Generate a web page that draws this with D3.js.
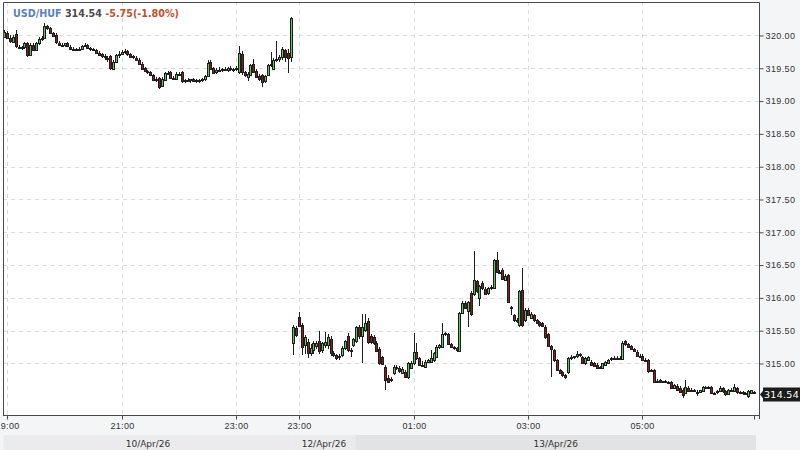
<!DOCTYPE html>
<html>
<head>
<meta charset="utf-8">
<script src="https://cdn.jsdelivr.net/npm/d3@7"></script>
<style>
  body { margin: 0; background: #fff; }
  svg { display: block; font-family: "DejaVu Sans", sans-serif; }
</style>
</head>
<body>
<svg id="chart" width="800" height="450"></svg>
<script>
// Instrument header
const symbol = 'USD/HUF';
const lastPrice = 314.54;
const change = -5.75;
const changePct = -1.80;

// Two trading sessions of 3-minute candles (Friday evening, Sunday night / Monday)
const sessionStarts = ['2026-04-10T18:57:00', '2026-04-12T22:54:00'];
const sessionLengths = [101, 162];
const candleMinutes = 3;

// Right axis prices
const priceTicks = [315.0, 315.5, 316.0, 316.5, 317.0, 317.5, 318.0, 318.5, 319.0, 319.5, 320.0];
const priceRange = [314.215, 320.51];

// OHLC values (session 1 first, then session 2)
const open = [
  319.98, 320.04, 319.96, 319.91, 320.02, 319.83, 319.81, 319.82, 319.88, 319.70,
  319.86, 319.78, 319.88, 319.94, 319.96, 320.14, 320.11, 320.04, 320.00, 319.89,
  319.86, 319.85, 319.88, 319.83, 319.80, 319.79, 319.78, 319.80, 319.84, 319.86,
  319.81, 319.79, 319.78, 319.74, 319.71, 319.68, 319.66, 319.68, 319.50, 319.60,
  319.70, 319.72, 319.74, 319.76, 319.72, 319.68, 319.66, 319.63, 319.57, 319.50,
  319.46, 319.44, 319.40, 319.33, 319.35, 319.24, 319.33, 319.43, 319.44, 319.35,
  319.34, 319.42, 319.44, 319.30, 319.32, 319.31, 319.33, 319.30, 319.32, 319.31,
  319.33, 319.38, 319.60, 319.50, 319.45, 319.48, 319.47, 319.49, 319.47, 319.50,
  319.48, 319.49, 319.44, 319.72, 319.44, 319.37, 319.40, 319.57, 319.46, 319.38,
  319.40, 319.30, 319.40, 319.55, 319.50, 319.63, 319.64, 319.67, 319.78, 319.73,
  319.66,
  315.31, 315.54, 315.71, 315.58, 315.28, 315.33, 315.16, 315.20, 315.28, 315.34,
  315.20, 315.28, 315.28, 315.38, 315.16, 315.13, 315.10, 315.13, 315.23, 315.42,
  315.20, 315.28, 315.34, 315.55, 315.42, 315.52, 315.65, 315.42, 315.40, 315.32,
  315.22, 315.10, 314.95, 314.78, 314.76, 314.86, 314.94, 314.93, 314.86, 314.87,
  314.78, 314.93, 315.00, 315.17, 315.08, 314.98, 314.95, 315.02, 315.02, 315.05,
  315.10, 315.25, 315.25, 315.44, 315.45, 315.30, 315.25, 315.23, 315.19, 315.77,
  315.92, 315.80, 316.07, 316.05, 316.25, 316.00, 316.22, 316.14, 316.07, 316.15,
  316.15, 316.58, 316.40, 316.43, 316.28, 316.35, 315.86, 315.74, 315.66, 315.58,
  316.12, 315.66, 315.82, 315.70, 315.74, 315.66, 315.63, 315.62, 315.56, 315.45,
  315.26, 315.20, 315.05, 314.90, 314.87, 314.82, 314.86, 315.09, 315.10, 315.11,
  315.14, 315.10, 315.00, 315.06, 315.03, 315.01, 314.98, 314.94, 314.93, 314.99,
  315.02, 315.06, 315.08, 315.09, 315.08, 315.08, 315.34, 315.30, 315.26, 315.22,
  315.18, 315.12, 315.12, 315.06, 315.05, 314.90, 314.90, 314.74, 314.75, 314.72,
  314.73, 314.72, 314.72, 314.63, 314.66, 314.63, 314.60, 314.55, 314.63, 314.59,
  314.59, 314.57, 314.56, 314.58, 314.64, 314.64, 314.64, 314.55, 314.56, 314.58,
  314.62, 314.58, 314.54, 314.59, 314.58, 314.62, 314.56, 314.56, 314.54, 314.51,
  314.55, 314.56
];

const high = [
  320.09, 320.07, 320.00, 320.00, 320.08, 319.86, 319.84, 319.90, 319.90, 319.88,
  319.88, 319.90, 319.97, 319.99, 320.19, 320.16, 320.13, 320.06, 320.03, 319.91,
  319.88, 319.89, 319.90, 319.86, 319.83, 319.81, 319.82, 319.85, 319.89, 319.87,
  319.83, 319.81, 319.80, 319.76, 319.73, 319.72, 319.69, 319.70, 319.62, 319.72,
  319.76, 319.78, 319.80, 319.78, 319.74, 319.70, 319.68, 319.65, 319.59, 319.52,
  319.48, 319.46, 319.42, 319.36, 319.37, 319.36, 319.45, 319.46, 319.46, 319.38,
  319.44, 319.45, 319.46, 319.33, 319.35, 319.34, 319.35, 319.33, 319.34, 319.35,
  319.40, 319.62, 319.63, 319.52, 319.51, 319.52, 319.51, 319.52, 319.52, 319.53,
  319.51, 319.53, 319.84, 319.76, 319.46, 319.44, 319.57, 319.64, 319.49, 319.42,
  319.42, 319.40, 319.56, 319.75, 319.66, 319.91, 319.70, 319.82, 319.80, 319.80,
  320.28,
  315.58, 315.57, 315.78, 315.62, 315.43, 315.38, 315.30, 315.34, 315.34, 315.50,
  315.33, 315.48, 315.45, 315.42, 315.19, 315.15, 315.14, 315.26, 315.36, 315.46,
  315.23, 315.39, 315.57, 315.58, 315.76, 315.76, 315.70, 315.45, 315.43, 315.35,
  315.25, 315.12, 314.98, 314.82, 314.80, 314.97, 314.97, 314.96, 314.95, 314.90,
  315.02, 315.04, 315.47, 315.32, 315.10, 315.04, 315.05, 315.07, 315.21, 315.18,
  315.28, 315.30, 315.62, 315.48, 315.47, 315.32, 315.27, 315.25, 315.79, 315.95,
  315.95, 315.96, 316.10, 316.72, 316.28, 316.20, 316.25, 316.16, 316.17, 316.20,
  316.60, 316.70, 316.43, 316.45, 316.36, 316.37, 315.88, 315.76, 315.69, 316.12,
  316.46, 315.84, 315.84, 315.78, 315.76, 315.68, 315.65, 315.64, 315.58, 315.47,
  315.28, 315.22, 315.07, 314.92, 314.89, 314.84, 315.10, 315.13, 315.12, 315.19,
  315.16, 315.12, 315.10, 315.12, 315.05, 315.03, 315.00, 314.96, 315.01, 315.04,
  315.07, 315.10, 315.11, 315.12, 315.11, 315.34, 315.36, 315.32, 315.28, 315.24,
  315.20, 315.15, 315.14, 315.08, 315.07, 314.92, 314.92, 314.76, 314.77, 314.74,
  314.75, 314.74, 314.74, 314.69, 314.68, 314.65, 314.62, 314.75, 314.65, 314.62,
  314.61, 314.59, 314.60, 314.66, 314.66, 314.66, 314.66, 314.57, 314.60, 314.65,
  314.64, 314.60, 314.61, 314.62, 314.69, 314.64, 314.58, 314.58, 314.57, 314.59,
  314.60, 314.58
];

const low = [
  319.96, 319.94, 319.89, 319.88, 319.81, 319.79, 319.78, 319.80, 319.67, 319.68,
  319.76, 319.76, 319.86, 319.92, 319.95, 320.08, 320.02, 319.99, 319.87, 319.84,
  319.83, 319.83, 319.82, 319.79, 319.77, 319.76, 319.76, 319.79, 319.82, 319.80,
  319.77, 319.76, 319.72, 319.69, 319.66, 319.63, 319.60, 319.48, 319.48, 319.58,
  319.66, 319.70, 319.71, 319.69, 319.66, 319.64, 319.61, 319.55, 319.48, 319.44,
  319.41, 319.38, 319.31, 319.29, 319.19, 319.22, 319.31, 319.40, 319.33, 319.32,
  319.32, 319.38, 319.28, 319.27, 319.29, 319.28, 319.29, 319.27, 319.28, 319.29,
  319.31, 319.36, 319.48, 319.41, 319.42, 319.45, 319.44, 319.46, 319.45, 319.46,
  319.45, 319.46, 319.42, 319.40, 319.36, 319.30, 319.38, 319.43, 319.35, 319.30,
  319.22, 319.28, 319.38, 319.52, 319.48, 319.60, 319.60, 319.63, 319.60, 319.43,
  319.60,
  315.13, 315.40, 315.56, 315.13, 315.15, 315.08, 315.12, 315.15, 315.22, 315.15,
  315.16, 315.24, 315.22, 315.12, 315.10, 315.05, 315.06, 315.10, 315.20, 315.18,
  315.10, 315.25, 315.32, 315.38, 315.00, 315.48, 315.30, 315.30, 315.28, 315.17,
  314.97, 314.97, 314.59, 314.70, 314.72, 314.82, 314.90, 314.86, 314.84, 314.78,
  314.76, 314.91, 314.98, 315.06, 314.96, 314.94, 314.93, 315.01, 315.00, 315.03,
  315.08, 315.22, 315.23, 315.42, 315.28, 315.24, 315.21, 315.18, 315.17, 315.75,
  315.83, 315.56, 315.73, 316.03, 316.08, 315.87, 316.12, 316.05, 316.05, 316.12,
  316.13, 316.38, 316.37, 316.28, 316.26, 315.92, 315.74, 315.64, 315.62, 315.56,
  315.56, 315.64, 315.72, 315.68, 315.64, 315.60, 315.56, 315.55, 315.38, 315.25,
  314.80, 315.02, 314.88, 314.84, 314.80, 314.77, 314.84, 315.06, 315.07, 315.09,
  315.10, 314.99, 314.98, 315.04, 314.97, 314.95, 314.91, 314.91, 314.91, 314.97,
  315.00, 315.04, 315.05, 315.06, 315.06, 315.06, 315.27, 315.24, 315.20, 315.17,
  315.10, 315.08, 315.04, 315.02, 314.86, 314.87, 314.70, 314.71, 314.70, 314.70,
  314.70, 314.70, 314.61, 314.61, 314.58, 314.55, 314.48, 314.53, 314.56, 314.57,
  314.57, 314.50, 314.55, 314.56, 314.62, 314.61, 314.53, 314.53, 314.54, 314.56,
  314.55, 314.51, 314.52, 314.57, 314.56, 314.54, 314.53, 314.52, 314.52, 314.48,
  314.53, 314.53
];

const close = [
  320.06, 319.96, 319.91, 319.98, 319.83, 319.81, 319.82, 319.88, 319.70, 319.86,
  319.78, 319.88, 319.94, 319.96, 320.14, 320.11, 320.04, 320.00, 319.89, 319.86,
  319.85, 319.88, 319.83, 319.80, 319.79, 319.78, 319.80, 319.84, 319.86, 319.81,
  319.79, 319.78, 319.74, 319.71, 319.68, 319.66, 319.64, 319.50, 319.60, 319.70,
  319.72, 319.75, 319.76, 319.71, 319.68, 319.66, 319.63, 319.57, 319.50, 319.46,
  319.44, 319.40, 319.33, 319.32, 319.22, 319.34, 319.43, 319.42, 319.35, 319.34,
  319.42, 319.40, 319.30, 319.32, 319.31, 319.33, 319.30, 319.32, 319.31, 319.33,
  319.38, 319.58, 319.50, 319.43, 319.48, 319.47, 319.49, 319.47, 319.50, 319.48,
  319.49, 319.50, 319.73, 319.44, 319.39, 319.42, 319.55, 319.45, 319.37, 319.33,
  319.29, 319.38, 319.55, 319.57, 319.63, 319.64, 319.67, 319.79, 319.68, 319.66,
  320.26,
  315.55, 315.44, 315.58, 315.25, 315.40, 315.16, 315.24, 315.31, 315.32, 315.18,
  315.31, 315.33, 315.40, 315.16, 315.13, 315.08, 315.11, 315.23, 315.34, 315.20,
  315.19, 315.37, 315.55, 315.42, 315.55, 315.62, 315.33, 315.33, 315.31, 315.20,
  315.00, 315.00, 314.75, 314.72, 314.77, 314.95, 314.93, 314.88, 314.92, 314.80,
  315.00, 315.00, 315.17, 315.08, 314.98, 314.96, 315.02, 315.05, 315.08, 315.16,
  315.25, 315.28, 315.45, 315.46, 315.30, 315.26, 315.23, 315.20, 315.77, 315.92,
  315.85, 315.94, 315.75, 316.27, 316.10, 316.18, 316.14, 316.07, 316.15, 316.17,
  316.58, 316.40, 316.39, 316.30, 316.34, 315.94, 315.84, 315.66, 315.67, 316.10,
  315.58, 315.82, 315.74, 315.76, 315.66, 315.62, 315.58, 315.57, 315.40, 315.27,
  315.22, 315.05, 314.90, 314.86, 314.82, 314.79, 315.08, 315.10, 315.11, 315.14,
  315.13, 315.01, 315.08, 315.10, 314.99, 314.97, 314.93, 314.93, 315.00, 315.03,
  315.06, 315.08, 315.09, 315.08, 315.09, 315.32, 315.29, 315.26, 315.22, 315.19,
  315.12, 315.10, 315.06, 315.04, 314.88, 314.89, 314.72, 314.73, 314.72, 314.73,
  314.72, 314.71, 314.63, 314.67, 314.60, 314.57, 314.52, 314.64, 314.58, 314.59,
  314.58, 314.56, 314.59, 314.64, 314.64, 314.63, 314.55, 314.55, 314.58, 314.62,
  314.57, 314.53, 314.60, 314.59, 314.64, 314.56, 314.55, 314.54, 314.55, 314.58,
  314.59, 314.54
];

// Plain hyphen for negative numbers, as in the original header
const locale = d3.formatLocale({ decimal: '.', thousands: ',', grouping: [3], currency: ['', ''], minus: '-' });
const fmt2 = locale.format('.2f');

// Candle times: consecutive 3-minute slots inside each session
const times = [];
sessionStarts.forEach((s, k) => {
  const t0 = new Date(s);
  for (let j = 0; j < sessionLengths[k]; j++) {
    times.push(new Date(t0.getTime() + j * candleMinutes * 60000));
  }
});

const candles = times.map((t, i) => ({
  i, t, o: open[i], h: high[i], l: low[i], c: close[i]
}));

// Layout
const plot = { left: 3, top: 2, right: 759, bottom: 415 };
const svg = d3.select('svg#chart');

const x = d3.scaleBand()
  .domain(d3.range(candles.length))
  .range([3.5, 756])
  .padding(0);
const cx = i => x(i) + x.bandwidth() / 2;

const y = d3.scaleLinear()
  .domain(priceRange)
  .range([plot.bottom, plot.top]);

// Backgrounds
svg.append('rect').attr('width', 800).attr('height', 450).attr('fill', '#ffffff');
svg.append('rect').attr('x', plot.right).attr('y', 0)
  .attr('width', 800 - plot.right).attr('height', 450).attr('fill', '#f4f5f7');
svg.append('rect').attr('x', 0).attr('y', plot.bottom)
  .attr('width', 800).attr('height', 450 - plot.bottom).attr('fill', '#f4f5f7');

// Date bands along the bottom
const fmtDay = d3.timeFormat('%d/%b/%y');
const days = [];
candles.forEach(d => {
  const key = fmtDay(d.t);
  const last = days[days.length - 1];
  if (last && last.key === key) last.end = d.i;
  else days.push({ key, start: d.i, end: d.i, date: d.t.getDate() });
});

const band = svg.append('g');
band.selectAll('rect')
  .data(days)
  .enter()
  .append('rect')
  .attr('x', d => x(d.start))
  .attr('y', 435)
  .attr('width', d => x(d.end) + x.bandwidth() - x(d.start))
  .attr('height', 15)
  .attr('fill', d => d.date % 2 === 0 ? '#ebebed' : '#e2e3e5');
band.selectAll('text')
  .data(days)
  .enter()
  .append('text')
  .attr('x', d => (x(d.start) + x(d.end) + x.bandwidth()) / 2)
  .attr('y', 446.5)
  .attr('text-anchor', 'middle')
  .style('font-size', '9px')
  .attr('fill', '#333')
  .text(d => d.key);

// Time ticks on odd hours
const tickIdx = candles
  .filter(d => d.t.getMinutes() === 0 && d.t.getHours() % 2 === 1)
  .map(d => d.i);

// Grid
const grid = svg.append('g')
  .attr('stroke', '#dcdcdc')
  .attr('stroke-dasharray', '4,4')
  .attr('shape-rendering', 'crispEdges');
grid.selectAll('line.h')
  .data(priceTicks)
  .enter()
  .append('line')
  .attr('class', 'h')
  .attr('x1', plot.left)
  .attr('x2', plot.right)
  .attr('y1', d => Math.round(y(d)) + 0.5)
  .attr('y2', d => Math.round(y(d)) + 0.5);
grid.selectAll('line.v')
  .data(tickIdx)
  .enter()
  .append('line')
  .attr('class', 'v')
  .attr('x1', d => Math.floor(cx(d)) + 0.5)
  .attr('x2', d => Math.floor(cx(d)) + 0.5)
  .attr('y1', plot.top)
  .attr('y2', plot.bottom);

// Candles
const gCandle = svg.append('g').attr('shape-rendering', 'crispEdges');
const up = d => d.c >= d.o;

gCandle.selectAll('line')
  .data(candles)
  .enter()
  .append('line')
  .attr('x1', d => Math.floor(cx(d.i)) + 0.5)
  .attr('x2', d => Math.floor(cx(d.i)) + 0.5)
  .attr('y1', d => y(Math.max(d.h, d.o, d.c)))
  .attr('y2', d => y(Math.min(d.l, d.o, d.c)))
  .attr('stroke', '#1e1e1e')
  .attr('stroke-width', 1);

gCandle.selectAll('rect')
  .data(candles)
  .enter()
  .append('rect')
  .attr('x', d => Math.floor(cx(d.i)) - 0.5)
  .attr('y', d => Math.round(y(Math.max(d.o, d.c))) + 0.5)
  .attr('width', 2)
  .attr('height', d => Math.max(1, Math.round(Math.abs(y(d.o) - y(d.c)))))
  .attr('fill', d => up(d) ? '#5cc45c' : '#8e1b1b')
  .attr('stroke', '#1e1e1e')
  .attr('stroke-width', 1);

// Frame
svg.append('path')
  .attr('d', `M${plot.left + 0.5},${plot.bottom + 0.5}V${plot.top + 0.5}H${plot.right + 0.5}V${plot.bottom + 4}`)
  .attr('fill', 'none')
  .attr('stroke', '#4a4a4a');
svg.append('line')
  .attr('x1', plot.left).attr('x2', plot.right + 1)
  .attr('y1', plot.bottom + 0.5).attr('y2', plot.bottom + 0.5)
  .attr('stroke', '#4a4a4a');

// Right price axis
const yAxis = d3.axisRight(y)
  .tickValues(priceTicks)
  .tickSize(4)
  .tickPadding(2)
  .tickFormat(fmt2);
const gy = svg.append('g')
  .attr('transform', `translate(${plot.right + 0.5},0)`)
  .call(yAxis);
gy.select('.domain').remove();
gy.selectAll('line').attr('stroke', '#4a4a4a');
gy.selectAll('text')
  .style('font-size', '9px')
  .style('letter-spacing', '0.4px')
  .attr('fill', '#333');

// Bottom time axis
const xAxis = d3.axisBottom(x)
  .tickValues(tickIdx.concat([candles.length - 1]))
  .tickSize(4)
  .tickPadding(3)
  .tickFormat(i => tickIdx.includes(i) ? d3.timeFormat('%H:%M')(times[i]) : '');
const gx = svg.append('g')
  .attr('transform', `translate(0,${plot.bottom + 0.5})`)
  .call(xAxis);
gx.select('.domain').remove();
gx.selectAll('.tick')
  .attr('transform', d => `translate(${Math.floor(cx(d)) + 0.5},0)`);
gx.selectAll('line').attr('stroke', '#4a4a4a');
gx.selectAll('text')
  .style('font-size', '9px')
  .style('letter-spacing', '0.3px')
  .attr('fill', '#333');

// Last price marker
const yLast = Math.round(y(lastPrice)) + 0.5;
svg.append('path')
  .attr('d', `M${plot.right + 1},${yLast}L${plot.right + 5},${yLast - 5}V${yLast + 5}Z`)
  .attr('fill', '#1c1c1c');
svg.append('rect')
  .attr('x', plot.right + 4)
  .attr('y', yLast - 7)
  .attr('width', 800 - plot.right - 4)
  .attr('height', 14)
  .attr('fill', '#1c1c1c');
svg.append('text')
  .attr('x', plot.right + 5)
  .attr('y', yLast + 3.5)
  .style('font-size', '9.5px')
  .style('letter-spacing', '0.3px')
  .attr('fill', '#ffffff')
  .text(fmt2(lastPrice));

// Title
const title = svg.append('text')
  .attr('x', 13)
  .attr('y', 17)
  .style('font-size', '9.6px')
  .style('font-weight', 'bold');
title.append('tspan').attr('fill', '#5a7fc6').text(symbol);
title.append('tspan').attr('fill', '#4a4a4a').text(' ' + fmt2(lastPrice) + ' ');
title.append('tspan').attr('fill', '#c2502a')
  .text(`${fmt2(change)}(${fmt2(changePct)}%)`);
</script>
</body>
</html>
